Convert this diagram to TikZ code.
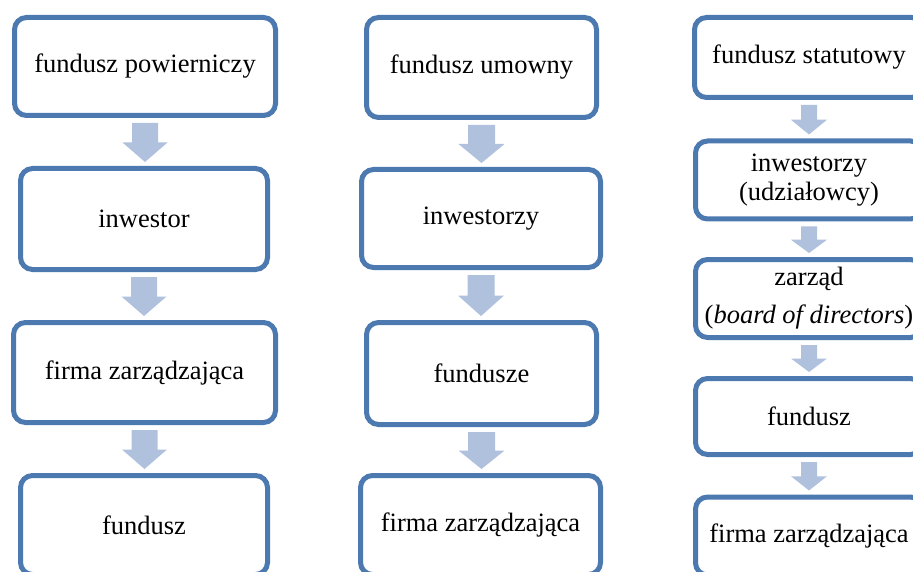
\documentclass[tikz,border=0pt]{standalone}
\usepackage{fontspec}
\setmainfont{Liberation Serif}
\usetikzlibrary{calc}
\definecolor{boxline}{RGB}{76,122,176}
\definecolor{arrowfill}{RGB}{176,193,221}
\tikzset{
  flowbox/.style={draw=boxline, line width=5pt, rounded corners=12pt, fill=white,
    inner sep=0pt, align=center, font=\fontsize{26.5}{29}\selectfont},
}
\newcommand\blockarr[4]{%
  \fill[arrowfill] let \p1=($(#1.south)-(0,5pt)$), \p2=($(#2.north)+(0,4pt)$),
    \n1={(\y1+\y2)/2} in
    (\x1-#3,\y1) -- (\x1+#3,\y1) -- (\x1+#3,\n1) -- (\x1+#4,\n1) -- (\x1,\y2)
    -- (\x1-#4,\n1) -- (\x1-#3,\n1) -- cycle;}
\begin{document}
\begin{tikzpicture}[x=1pt,y=-1pt]
\useasboundingbox (0,0) rectangle (913,572);
\clip (0,0) rectangle (913,572);
\fill[white] (0,0) rectangle (913,572);
% column 1
\node[flowbox, minimum width=261pt, minimum height=98pt] (a1) at (145,66.5) {fundusz powierniczy};
\node[flowbox, minimum width=247pt, minimum height=101pt] (a2) at (144,219) {inwestor};
\node[flowbox, minimum width=262pt, minimum height=100pt] (a3) at (144.5,372.5) {firma zarządzająca};
\node[flowbox, minimum width=247pt, minimum height=99pt] (a4) at (144,525) {fundusz};
% column 2
\node[flowbox, minimum width=230pt, minimum height=100pt] (b1) at (481.5,67.5) {fundusz umowny};
\node[flowbox, minimum width=239pt, minimum height=98pt] (b2) at (481,218.5) {inwestorzy};
\node[flowbox, minimum width=230pt, minimum height=102pt] (b3) at (481.5,373.5) {fundusze};
\node[flowbox, minimum width=240pt, minimum height=99pt] (b4) at (480.5,525) {firma zarządzająca};
% column 3
\node[flowbox, minimum width=229pt, minimum height=80pt] (c1) at (809,57.5) {fundusz statutowy};
\node[flowbox, minimum width=227pt, minimum height=78pt] (c2) at (809,180) {inwestorzy\\(udziałowcy)};
\node[flowbox, minimum width=227pt, minimum height=78pt] (c3) at (809,298.5) {zarząd\\[9pt](\textit{board of directors})};
\node[flowbox, minimum width=227pt, minimum height=76pt] (c4) at (809,416.5) {fundusz};
\node[flowbox, minimum width=227pt, minimum height=78pt] (c5) at (809,536) {firma zarządzająca};
% arrows
\blockarr{a1}{a2}{13pt}{22.5pt}
\blockarr{a2}{a3}{13pt}{22.5pt}
\blockarr{a3}{a4}{13pt}{22.5pt}
\blockarr{b1}{b2}{13.5pt}{23pt}
\blockarr{b2}{b3}{13.5pt}{23pt}
\blockarr{b3}{b4}{13.5pt}{23pt}
\blockarr{c1}{c2}{8pt}{18pt}
\blockarr{c2}{c3}{8pt}{18pt}
\blockarr{c3}{c4}{8pt}{18pt}
\blockarr{c4}{c5}{8pt}{18pt}
\end{tikzpicture}
\end{document}
